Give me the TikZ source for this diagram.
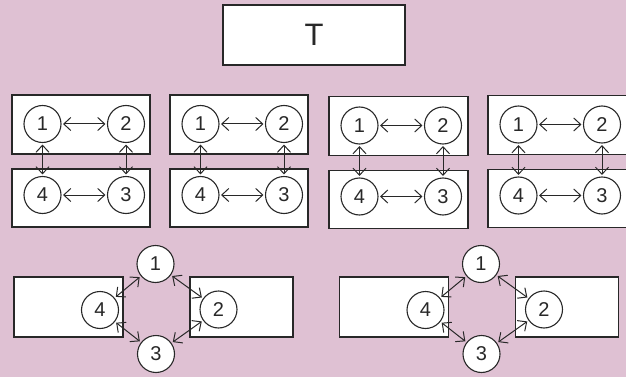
\documentclass[tikz,border=0pt]{standalone}
\usepackage{fontspec}
\setmainfont{Liberation Sans}
\usetikzlibrary{arrows.meta}
\definecolor{bgmauve}{RGB}{223,193,211}
\definecolor{ink}{RGB}{40,40,40}
\tikzset{
  panel/.style={draw=ink, fill=white, line width=1.2pt},
  station/.style={circle, draw=ink, fill=white, line width=1.1pt, minimum size=37pt,
    inner sep=0pt, font=\fontsize{20}{20}\selectfont, text=ink},
  link/.style={draw=ink, line width=1pt,
    {Straight Barb[length=7pt,width=13pt]}-{Straight Barb[length=7pt,width=13pt]},
    shorten >=1.5pt, shorten <=1.5pt},
}
% two stacked panels, each holding two stations
\newcommand\ringpair[4]{% #1 prefix, #2 left x, #3 top y, #4 panel width
  \draw[panel] (#2,#3) rectangle ++(#4,59);
  \draw[panel] (#2,#3+74) rectangle ++(#4,58);
  \node[station] (#1n1) at (#2+30.5,#3+29) {1};
  \node[station] (#1n2) at (#2+114,#3+29) {2};
  \node[station] (#1n4) at (#2+30.5,#3+100) {4};
  \node[station] (#1n3) at (#2+114,#3+100) {3};
  \draw[link] (#1n1) -- (#1n2);
  \draw[link] (#1n4) -- (#1n3);
  \draw[link] (#1n1) -- (#1n4);
  \draw[link] (#1n2) -- (#1n3);
}
% two side panels with a ring of four stations between them
\newcommand\ringopen[2]{% #1 prefix, #2 x offset
  \draw[panel] (#2+14,277) rectangle (#2+123,337);
  \draw[panel] (#2+190,277) rectangle (#2+293,337);
  \node[station] (#1n1) at (#2+155.5,264) {1};
  \node[station] (#1n4) at (#2+100,310) {4};
  \node[station] (#1n2) at (#2+218.5,309.5) {2};
  \node[station] (#1n3) at (#2+156,354) {3};
  \draw[link] (#1n4) -- (#1n1);
  \draw[link] (#1n1) -- (#1n2);
  \draw[link] (#1n2) -- (#1n3);
  \draw[link] (#1n3) -- (#1n4);
}
\begin{document}
\begin{tikzpicture}[x=1pt,y=-1pt]
  \fill[bgmauve] (0,0) rectangle (626,377);
  \clip (0,0) rectangle (626,377);
  \node[panel, minimum width=182pt, minimum height=60pt, text=ink,
    font=\fontsize{31}{31}\selectfont] (title) at (314,35) {T};
  \ringpair{a}{12}{95}{138}
  \ringpair{b}{170}{95}{138}
  \ringpair{c}{329}{96.5}{139}
  \ringpair{d}{488}{95.5}{150}
  \ringopen{e}{0}
  \ringopen{f}{325.5}
\end{tikzpicture}
\end{document}
